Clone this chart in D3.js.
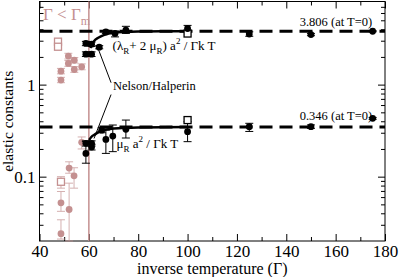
<!DOCTYPE html>
<html>
<head>
<meta charset="utf-8">
<script src="https://cdn.jsdelivr.net/npm/d3@7/dist/d3.min.js"></script>
<style>
  body { margin: 0; background: #fff; }
  svg { display: block; font-family: "Liberation Serif", "DejaVu Serif", serif; }
</style>
</head>
<body>
<svg id="chart" width="399" height="277"></svg>
<script>
// solid state (black) points: gamma, value, error low, error high
const upperG   = [58.8, 61.1, 58.8, 61.1, 64.2, 66.9, 70.6, 75, 100, 125, 150, 175]
const upperV   = [2.8, 2.75, 2.14, 2.14, 2.55, 3.74, 3.6, 3.9, 4.07, 3.55, 3.5, 3.8]
const upperLo  = [2.65, 2.6, 2.02, 2.02, 2.45, 3.6, 3.3, 3.6, 3.75, 3.35, 3.4, 3.75]
const upperHi  = [2.95, 2.9, 2.27, 2.27, 2.65, 3.88, 3.83, 4.3, 4.4, 3.75, 3.6, 3.85]
const lowerG   = [58.8, 58.8, 61.1, 61.1, 65.2, 66.9, 69.7, 75, 100, 125, 150, 175]
const lowerV   = [0.23, 0.179, 0.23, 0.21, 0.32, 0.254, 0.276, 0.327, 0.308, 0.349, 0.349, 0.43]
const lowerLo  = [0.215, 0.14, 0.215, 0.195, 0.3, 0.179, 0.187, 0.263, 0.24, 0.31, 0.335, 0.42]
const lowerHi  = [0.245, 0.24, 0.245, 0.225, 0.34, 0.321, 0.364, 0.412, 0.395, 0.38, 0.365, 0.44]
const squareG  = [100, 100]
const squareV  = [3.59, 0.412]

// liquid side (pink) points
const liqG  = [48.7, 48.7, 51.7, 51.7, 54.1, 54.1, 57.1, 57.1, 48.7, 52, 52, 54, 48.7]
const liqV  = [1.40, 1.12, 2.04, 1.70, 1.84, 1.46, 1.56, 0.236, 0.052, 0.124, 0.044, 0.102, 0.024]
const liqLo = [1.31, 1.05, 1.90, 1.58, 1.72, 1.36, 1.45, 0.2, 0.042, 0.109, 0.02, 0.075, 0.021]
const liqHi = [1.50, 1.20, 2.19, 1.83, 1.97, 1.57, 1.68, 0.27, 0.069, 0.145, 0.085, 0.125, 0.034]
const liqSqG  = [47.5, 47.5, 48.7]
const liqSqV  = [2.93, 2.58, 0.088]
const liqSqLo = [2.93, 2.58, 0.075]
const liqSqHi = [2.93, 2.58, 0.1]

// Nelson/Halperin curves
const fitUpperG = [60.6, 62, 64, 66, 68, 70, 75, 80, 90, 100]
const fitUpperV = [2.5, 2.95, 3.25, 3.45, 3.58, 3.65, 3.73, 3.77, 3.8, 3.805]
const fitLowerG = [60.1, 61, 62.5, 64.5, 67, 70, 75, 80, 90, 100]
const fitLowerV = [0.25, 0.27, 0.288, 0.31, 0.325, 0.333, 0.34, 0.343, 0.345, 0.346]

const limitsT0 = [3.806, 0.346]
const gammaMelt = 60

const xTicks = [40, 60, 80, 100, 120, 140, 160, 180]
const yTicks = [0.1, 1]

const pink = '#c49090'
const serif = '"Liberation Serif", "DejaVu Serif", serif'
const svg = d3.select('#chart')
const W = 399, H = 277
const margin = {top: 1.5, right: 14, bottom: 36, left: 39.5}

const x = d3.scaleLinear().domain([40, 180]).range([margin.left, W - margin.right])
const y = d3.scaleLog().domain([0.02, 8]).range([H - margin.bottom, margin.top])

const plotB = H - margin.bottom, plotT = margin.top
const plotL = margin.left, plotR = W - margin.right

// minor ticks
const xMinor = d3.range(50, 180, 20)
const yMinor = []
;[0.01, 0.1, 1].forEach(d => { for (let k = 2; k <= 9; k++) { const v = d * k; if (v > 0.02 && v < 8) yMinor.push(v) } })

function tickStyle(g) {
    g.attr('font-family', serif)
    g.select('.domain').remove()
    g.selectAll('line').attr('stroke', '#000')
    g.selectAll('text').attr('font-size', 17).attr('font-family', serif).attr('fill', '#000')
}

svg.append('g').attr('transform', `translate(0,${plotB})`)
    .call(d3.axisBottom(x).tickValues(xTicks).tickSize(-7).tickPadding(4).tickFormat(d3.format('d')))
    .call(tickStyle)
svg.append('g').attr('transform', `translate(0,${plotB})`)
    .call(d3.axisBottom(x).tickValues(xMinor).tickSize(-4).tickFormat(''))
    .call(tickStyle)
svg.append('g').attr('transform', `translate(0,${plotT})`)
    .call(d3.axisTop(x).tickValues(xTicks).tickSize(-7).tickFormat(''))
    .call(tickStyle)
svg.append('g').attr('transform', `translate(0,${plotT})`)
    .call(d3.axisTop(x).tickValues(xMinor).tickSize(-4).tickFormat(''))
    .call(tickStyle)

svg.append('g').attr('transform', `translate(${plotL},0)`)
    .call(d3.axisLeft(y).tickValues(yTicks).tickSize(-7).tickPadding(4).tickFormat(d => d === 1 ? '1' : '0.1'))
    .call(tickStyle)
svg.append('g').attr('transform', `translate(${plotL},0)`)
    .call(d3.axisLeft(y).tickValues(yMinor).tickSize(-4).tickFormat(''))
    .call(tickStyle)
svg.append('g').attr('transform', `translate(${plotR},0)`)
    .call(d3.axisRight(y).tickValues(yTicks).tickSize(-7).tickFormat(''))
    .call(tickStyle)
svg.append('g').attr('transform', `translate(${plotR},0)`)
    .call(d3.axisRight(y).tickValues(yMinor).tickSize(-4).tickFormat(''))
    .call(tickStyle)

// frame
svg.append('rect')
    .attr('x', plotL).attr('y', plotT)
    .attr('width', plotR - plotL).attr('height', plotB - plotT)
    .attr('fill', 'none').attr('stroke', '#000').attr('stroke-width', 1)

const plot = svg.append('g')

// melting line
plot.append('line')
    .attr('x1', x(gammaMelt)).attr('x2', x(gammaMelt))
    .attr('y1', plotT).attr('y2', plotB)
    .attr('stroke', pink).attr('stroke-width', 1.5)

// T=0 limits
plot.selectAll('line.limit').data(limitsT0).enter().append('line')
    .attr('class', 'limit')
    .attr('x1', plotL).attr('x2', plotR)
    .attr('y1', d => y(d)).attr('y2', d => y(d))
    .attr('stroke', '#000').attr('stroke-width', 3)
    .attr('stroke-dasharray', '13,7')

// fitted curves
const line = d3.line().x(d => x(d[0])).y(d => y(d[1])).curve(d3.curveMonotoneX)
;[[fitUpperG, fitUpperV], [fitLowerG, fitLowerV]].forEach(([gs, vs]) => {
    plot.append('path')
        .attr('d', line(gs.map((g, i) => [g, vs[i]])))
        .attr('fill', 'none').attr('stroke', '#000').attr('stroke-width', 2.5)
})

function errorBars(gs, vs, lo, hi, color, opacity) {
    const data = gs.map((g, i) => ({g, v: vs[i], lo: Math.max(lo[i], 0.02), hi: hi[i]}))
        .filter(d => d.hi > d.lo)
    const eg = plot.append('g').attr('stroke', color).attr('stroke-width', 1).attr('opacity', opacity)
    eg.selectAll('line.v').data(data).enter().append('line')
        .attr('x1', d => x(d.g)).attr('x2', d => x(d.g))
        .attr('y1', d => y(d.lo)).attr('y2', d => y(d.hi))
    eg.selectAll('line.lo').data(data).enter().append('line')
        .attr('x1', d => x(d.g) - 4).attr('x2', d => x(d.g) + 4)
        .attr('y1', d => y(d.lo)).attr('y2', d => y(d.lo))
    eg.selectAll('line.hi').data(data).enter().append('line')
        .attr('x1', d => x(d.g) - 4).attr('x2', d => x(d.g) + 4)
        .attr('y1', d => y(d.hi)).attr('y2', d => y(d.hi))
}

function dots(gs, vs, color) {
    plot.append('g').selectAll('circle')
        .data(gs.map((g, i) => [g, vs[i]]))
        .enter().append('circle')
        .attr('cx', d => x(d[0])).attr('cy', d => y(d[1]))
        .attr('r', 3.4).attr('fill', color)
}

function squares(gs, vs, color) {
    plot.append('g').selectAll('rect')
        .data(gs.map((g, i) => [g, vs[i]]))
        .enter().append('rect')
        .attr('x', d => x(d[0]) - 3.5).attr('y', d => y(d[1]) - 3.5)
        .attr('width', 7).attr('height', 7)
        .attr('fill', '#fff').attr('stroke', color).attr('stroke-width', 1.3)
}

errorBars(liqG, liqV, liqLo, liqHi, pink, 0.7)
errorBars(liqSqG, liqSqV, liqSqLo, liqSqHi, pink, 0.7)
dots(liqG, liqV, pink)
squares(liqSqG, liqSqV, pink)

errorBars(upperG, upperV, upperLo, upperHi, '#000', 1)
errorBars(lowerG, lowerV, lowerLo, lowerHi, '#000', 1)
squares(squareG, squareV, '#000')
dots(upperG, upperV, '#000')
dots(lowerG, lowerV, '#000')

// annotations
const txt = svg.append('g').attr('fill', '#000')

const a1 = txt.append('text').attr('x', x(69.6)).attr('y', y(2.37)).attr('font-size', 13)
a1.append('tspan').text('(λ')
a1.append('tspan').text('R').attr('font-size', 9).attr('dy', 4)
a1.append('tspan').text('+ 2 μ').attr('dy', -4)
a1.append('tspan').text('R').attr('font-size', 9).attr('dy', 4)
a1.append('tspan').text(') a').attr('dy', -4)
a1.append('tspan').text('2').attr('font-size', 9).attr('dy', -6)
a1.append('tspan').text(' / Γk T').attr('dy', 6)

const a2 = txt.append('text').attr('x', x(71.2)).attr('y', y(0.206)).attr('font-size', 13)
a2.append('tspan').text('μ')
a2.append('tspan').text('R').attr('font-size', 9).attr('dy', 4)
a2.append('tspan').text(' a').attr('dy', -4)
a2.append('tspan').text('2').attr('font-size', 9).attr('dy', -6)
a2.append('tspan').text(' / Γk T').attr('dy', 6)

txt.append('text').attr('x', x(69.8)).attr('y', y(0.88))
    .attr('font-size', 12.5).text('Nelson/Halperin')

const leaders = [[[63.3, 2.65], [69.0, 1.05]], [[69.0, 0.78], [62.1, 0.26]]]
leaders.forEach(l => {
    svg.append('line')
        .attr('x1', x(l[0][0])).attr('y1', y(l[0][1]))
        .attr('x2', x(l[1][0])).attr('y2', y(l[1][1]))
        .attr('stroke', '#000').attr('stroke-width', 1)
})

txt.append('text').attr('x', x(174.8)).attr('y', y(limitsT0[0]) - 5)
    .attr('text-anchor', 'end').attr('font-size', 12.5).text('3.806 (at T=0)')
txt.append('text').attr('x', x(174.8)).attr('y', y(limitsT0[1]) - 7)
    .attr('text-anchor', 'end').attr('font-size', 12.5).text('0.346 (at T=0)')

const gm = svg.append('text').attr('x', 43).attr('y', 20).attr('font-size', 17).attr('fill', pink)
gm.append('tspan').text('Γ < Γ')
gm.append('tspan').text('m').attr('font-size', 12).attr('dy', 5)

// axis titles
svg.append('text')
    .attr('x', (plotL + plotR) / 2).attr('y', 274)
    .attr('text-anchor', 'middle').attr('font-size', 16)
    .text('inverse temperature (Γ)')
svg.append('text')
    .attr('transform', `translate(13,${(plotT + plotB) / 2}) rotate(-90)`)
    .attr('text-anchor', 'middle').attr('font-size', 15.5)
    .text('elastic constants')
</script>
</body>
</html>
